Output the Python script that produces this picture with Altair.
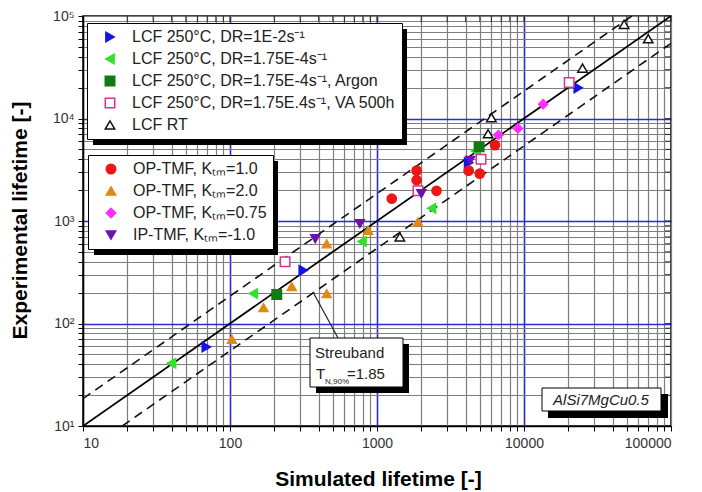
import altair as alt
import pandas as pd

# ---------------- data ----------------
lcf_names = [
    "LCF 250°C, DR=1E-2s⁻¹",
    "LCF 250°C, DR=1.75E-4s⁻¹",
    "LCF 250°C, DR=1.75E-4s⁻¹, Argon",
    "LCF 250°C, DR=1.75E.4s⁻¹, VA 500h",
    "LCF RT",
]
tmf_names = [
    "OP-TMF, Kₜₘ=1.0",
    "OP-TMF, Kₜₘ=2.0",
    "OP-TMF, Kₜₘ=0.75",
    "IP-TMF, Kₜₘ=-1.0",
]

blue_x = [69, 315, 4200, 23400]
blue_y = [59, 330, 3700, 19900]
lgreen_x = [40, 144, 790, 2350, 4700]
lgreen_y = [41, 196, 630, 1330, 4800]
dgreen_x = [208, 4950]
dgreen_y = [192, 5300]
msq_x = [237, 1900, 5100, 20300]
msq_y = [400, 1970, 4000, 22500]
rt_x = [1430, 5700, 6000, 25000, 48000, 70000]
rt_y = [700, 7100, 10200, 31000, 83000, 60000]

red_x = [1260, 1860, 1860, 2540, 4200, 5000, 6350]
red_y = [1650, 3100, 2500, 1970, 3100, 2900, 5500]
orange_x = [103, 169, 263, 455, 455, 870, 1900]
orange_y = [70, 143, 230, 196, 600, 810, 980]
diamond_x = [6700, 9100, 13500]
diamond_y = [6900, 8000, 13800]
purple_x = [380, 765, 2000, 4300]
purple_y = [670, 940, 1850, 3900]

band_factor = 1.85
x_min, x_max = 10, 100000

x_ticks = [m * 10 ** e for e in range(1, 5) for m in range(1, 10)] + [100000]
y_ticks = list(x_ticks)

# ---------------- styles ----------------
lcf_shapes = ["triangle-right", "triangle-left", "square", "square", "triangle-up"]
lcf_fill = ["#1414e6", "#33e033", "#127a12", "#ffffff", "#ffffff"]
lcf_stroke = ["#1414e6", "#33e033", "#127a12", "#d8348e", "#111111"]
tmf_shapes = ["circle", "triangle-up", "diamond", "triangle-down"]
tmf_col = ["#ee1515", "#e08a14", "#ff2cff", "#6a14b0"]

FONT = "Liberation Sans"

rows = []
for n, xs, ys in zip(lcf_names, [blue_x, lgreen_x, dgreen_x, msq_x, rt_x],
                     [blue_y, lgreen_y, dgreen_y, msq_y, rt_y]):
    for a, b in zip(xs, ys):
        rows.append({"sim": a, "exp": b, "lcf": n})
df_lcf = pd.DataFrame(rows)

rows = []
for n, xs, ys in zip(tmf_names, [red_x, orange_x, diamond_x, purple_x],
                     [red_y, orange_y, diamond_y, purple_y]):
    for a, b in zip(xs, ys):
        rows.append({"sim": a, "exp": b, "tmf": n})
df_tmf = pd.DataFrame(rows)

df_mid = pd.DataFrame({"sim": [x_min, x_max], "exp": [x_min, x_max]})
df_band = pd.DataFrame({
    "sim": [x_min, x_max / band_factor, x_min * band_factor, x_max],
    "exp": [x_min * band_factor, x_max, x_min, x_max / band_factor],
    "k": ["up", "up", "lo", "lo"],
})
df_ticks = pd.DataFrame({"sim": x_ticks, "exp": y_ticks})

major_test = "indexof([100,1000,10000], datum.value) >= 0"
grid_color = {"condition": {"test": major_test, "value": "#2b2bd0"}, "value": "#7e7e7e"}
grid_width = {"condition": {"test": major_test, "value": 1.6}, "value": 1.2}

xscale = alt.Scale(type="log", domain=[x_min, x_max], nice=False)
yscale = alt.Scale(type="log", domain=[x_min, x_max], nice=False)

X = alt.X("sim:Q", scale=xscale,
          axis=alt.Axis(values=x_ticks,
                        labelExpr="indexof([10,100,1000,10000,100000], datum.value) >= 0 ? format(datum.value, 'd') : ''",
                        grid=True, gridColor=grid_color, gridWidth=grid_width,
                        tickSize=5, tickColor="black", domainColor="black", domainWidth=1.5,
                        labelFont=FONT, labelFontSize=14, labelColor="#333", labelPadding=5,
                        title="Simulated lifetime [-]", titleFont=FONT, titleFontSize=21,
                        titleFontWeight="bold", titleX=295, titleY=53, titleBaseline="middle",
                        titleColor="black"))
Y = alt.Y("exp:Q", scale=yscale,
          axis=alt.Axis(values=y_ticks,
                        labelExpr="datum.value == 10 ? '10¹' : datum.value == 100 ? '10²' : datum.value == 1000 ? '10³' : datum.value == 10000 ? '10⁴' : datum.value == 100000 ? '10⁵' : ''",
                        grid=True, gridColor=grid_color, gridWidth=grid_width,
                        tickSize=5, tickColor="black", domainColor="black", domainWidth=1.5,
                        labelFont=FONT, labelFontSize=14, labelColor="#333", labelPadding=4,
                        title="Experimental lifetime [-]", titleFont=FONT, titleFontSize=21,
                        titleFontWeight="bold", titleX=-63, titleY=204, titleAngle=-90,
                        titleAlign="center", titleBaseline="middle", titleColor="black"))

mid = alt.Chart(df_mid).mark_line(color="black", strokeWidth=1.8, clip=True).encode(x=X, y=Y)
band = alt.Chart(df_band).mark_line(color="#111", strokeWidth=1.6, strokeDash=[9, 6], clip=True).encode(
    x=X, y=Y, detail="k:N")

# inner ticks on the top and right frame edges
top_ticks = alt.Chart(df_ticks).mark_tick(orient="vertical", size=6, thickness=1, color="black").encode(
    x=X, y=alt.value(3))
right_ticks = alt.Chart(df_ticks).mark_tick(orient="horizontal", size=6, thickness=1, color="black").encode(
    y=Y, x=alt.value(585))


def leg(lx, ly):
    return alt.Legend(orient="none", legendX=lx, legendY=ly, title=None,
                      fillColor="white", strokeColor="black", padding=6,
                      labelFont=FONT, labelFontSize=16, labelColor="#222", labelLimit=400,
                      symbolSize=90, symbolStrokeWidth=1.5, rowPadding=6,
                      labelOffset=14, symbolOffset=9)


leg_a = leg(4, 7)
leg_b = leg(5, 139)

pts_a = alt.Chart(df_lcf).mark_point(filled=True, size=90, strokeWidth=1.5, opacity=1).encode(
    x=X, y=Y,
    shape=alt.Shape("lcf:N", scale=alt.Scale(domain=lcf_names, range=lcf_shapes), legend=leg_a),
    fill=alt.Fill("lcf:N", scale=alt.Scale(domain=lcf_names, range=lcf_fill), legend=leg_a),
    stroke=alt.Stroke("lcf:N", scale=alt.Scale(domain=lcf_names, range=lcf_stroke), legend=leg_a),
)
pts_b = alt.Chart(df_tmf).mark_point(filled=True, size=90, strokeWidth=1.2, opacity=1).encode(
    x=X, y=Y,
    shape=alt.Shape("tmf:N", scale=alt.Scale(domain=tmf_names, range=tmf_shapes), legend=leg_b),
    fill=alt.Fill("tmf:N", scale=alt.Scale(domain=tmf_names, range=tmf_col), legend=leg_b),
    stroke=alt.Stroke("tmf:N", scale=alt.Scale(domain=tmf_names, range=tmf_col), legend=leg_b),
)

one = pd.DataFrame({"a": [0]})


def box(x1, y1, x2, y2, fill, stroke=None):
    kw = dict(fill=fill)
    if stroke:
        kw.update(stroke=stroke, strokeWidth=1)
    return alt.Chart(one).mark_rect(**kw).encode(
        x=alt.value(x1), x2=alt.value(x2), y=alt.value(y1), y2=alt.value(y2))


def txt(x, y, s, size=14.5, align="left", italic=False):
    return alt.Chart(one).mark_text(text=s, font=FONT, fontSize=size, align=align,
                                    baseline="middle", color="#222",
                                    fontStyle="italic" if italic else "normal").encode(
        x=alt.value(x), y=alt.value(y))


# legend drop shadows
shadows = [box(10, 13, 324, 129, "black"), box(11, 145, 195, 239, "black")]

# Streuband annotation
leader = alt.Chart(one).mark_rule(color="#222", strokeWidth=1.2).encode(
    x=alt.value(230), y=alt.value(276), x2=alt.value(255), y2=alt.value(322))
sb = [box(233, 328, 326, 377, "black"), box(227, 322, 320, 371, "white", "black"),
      txt(232, 337, "Streuband", size=15), txt(233, 358, "T", size=15), txt(242, 366, "N,90%", size=8),
      txt(264, 358, "=1.85", size=15)]
alloy = [box(465, 378, 585, 402, "black"), box(459, 372, 578, 395, "white", "black"),
         txt(518, 384, "AlSi7MgCu0.5", size=15, align="center", italic=True)]

chart = alt.layer(
    mid, band, top_ticks, right_ticks, *shadows, leader, *sb, *alloy, pts_a, pts_b
).resolve_scale(
    shape="independent", fill="independent", stroke="independent"
).properties(
    width=588, height=410,
    padding={"left": 83, "top": 16, "right": 31, "bottom": 66},
    autosize=alt.AutoSizeParams(type="none"),
    background="white",
).configure_view(stroke="black", strokeWidth=1.5)

chart.save("out.html", embed_options={"renderer": "svg", "actions": False})
